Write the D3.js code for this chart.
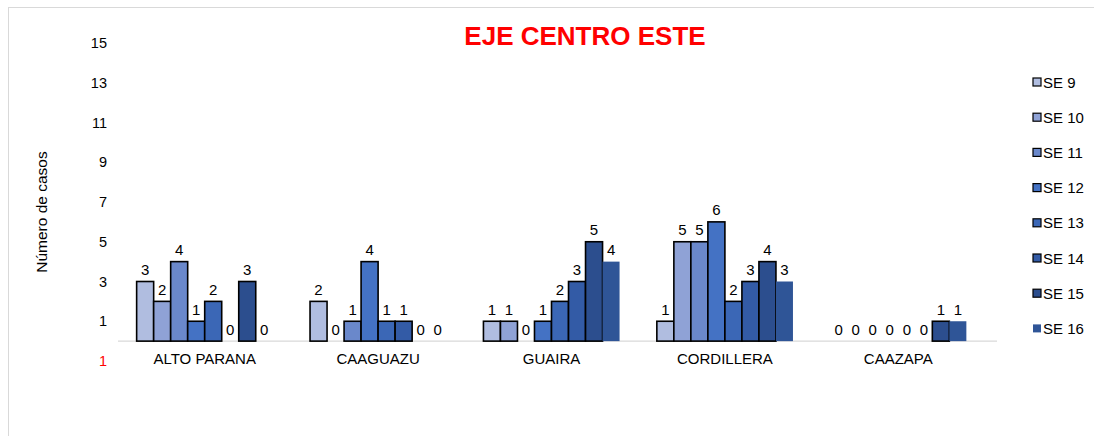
<!DOCTYPE html>
<html>
<head>
<meta charset="utf-8">
<script src="https://cdn.jsdelivr.net/npm/d3@7"></script>
<style>
  body { margin: 0; background: #fff; }
  text { font-family: Arial, "Liberation Sans", sans-serif; }
</style>
</head>
<body>
<div id="vis1"></div>
<script>
const categories = ["ALTO PARANA", "CAAGUAZU", "GUAIRA", "CORDILLERA", "CAAZAPA"]
const series = ["SE 9", "SE 10", "SE 11", "SE 12", "SE 13", "SE 14", "SE 15", "SE 16"]
const se9 = [3, 2, 1, 1, 0]
const se10 = [2, 0, 1, 5, 0]
const se11 = [4, 1, 0, 5, 0]
const se12 = [1, 4, 1, 6, 0]
const se13 = [2, 1, 2, 2, 0]
const se14 = [0, 1, 3, 3, 0]
const se15 = [3, 0, 5, 4, 1]
const se16 = [0, 0, 4, 3, 1]
const yTicks = [-1, 1, 3, 5, 7, 9, 11, 13, 15]

const values = [se9, se10, se11, se12, se13, se14, se15, se16]
const colors = ["#b0bde0", "#8fa2d6", "#6a88cb", "#4472c4", "#3b67b6", "#335ba6", "#2c4e8e", "#2f5597"]

const WIDTH = 1094
const HEIGHT = 436
const MARGINS = { left: 118, right: 109, top: 43, bottom: 75 }

const svg = d3.select("#vis1")
    .append("svg")
    .attr("width", WIDTH)
    .attr("height", HEIGHT)

// chart frame
svg.append("rect")
    .attr("x", 8.5)
    .attr("y", 7.5)
    .attr("width", WIDTH)
    .attr("height", HEIGHT)
    .attr("fill", "none")
    .attr("stroke", "#d9d9d9")

const X = d3.scaleBand()
    .domain(categories)
    .range([MARGINS.left, WIDTH - MARGINS.right])
    .paddingInner(0.215)
    .paddingOuter(0.1075)

const XS = d3.scaleBand()
    .domain(series)
    .range([0, X.bandwidth()])

const Y = d3.scaleLinear()
    .domain([-1, 15])
    .range([HEIGHT - MARGINS.bottom, MARGINS.top])

// y tick labels (negative shown red without sign)
svg.append("g")
    .selectAll("text")
    .data(yTicks)
    .enter()
    .append("text")
    .attr("x", 107)
    .attr("y", d => Y(d))
    .attr("text-anchor", "end")
    .attr("dominant-baseline", "central")
    .attr("font-size", "14.5px")
    .attr("fill", d => d < 0 ? "#ff0000" : "#000")
    .text(d => Math.abs(d))

// baseline
svg.append("line")
    .attr("x1", MARGINS.left)
    .attr("x2", WIDTH - MARGINS.right + 12)
    .attr("y1", Y(0))
    .attr("y2", Y(0))
    .attr("stroke", "#d9d9d9")
    .attr("stroke-width", 1.2)

// category labels
svg.append("g")
    .selectAll("text")
    .data(categories)
    .enter()
    .append("text")
    .attr("x", d => X(d) + X.bandwidth() / 2)
    .attr("y", Y(0) + 17)
    .attr("text-anchor", "middle")
    .attr("dominant-baseline", "central")
    .attr("font-size", "15px")
    .text(d => d)

const groups = svg.selectAll(".grp")
    .data(categories)
    .enter()
    .append("g")
    .attr("class", "grp")
    .attr("transform", d => "translate(" + X(d) + ",0)")

groups.selectAll("rect")
    .data((d, ci) => series.map((s, si) => ({ s: s, si: si, v: values[si][ci] })))
    .enter()
    .append("rect")
    .attr("x", d => XS(d.s))
    .attr("y", d => Y(d.v))
    .attr("width", XS.bandwidth())
    .attr("height", d => Y(0) - Y(d.v))
    .attr("fill", d => colors[d.si])
    .attr("stroke", d => d.si == 7 || d.v == 0 ? "none" : "#000")
    .attr("stroke-width", 1.6)

groups.selectAll("text")
    .data((d, ci) => series.map((s, si) => ({ s: s, si: si, v: values[si][ci] })))
    .enter()
    .append("text")
    .attr("x", d => XS(d.s) + XS.bandwidth() / 2)
    .attr("y", d => Y(d.v) - 12)
    .attr("text-anchor", "middle")
    .attr("dominant-baseline", "central")
    .attr("font-size", "15px")
    .text(d => d.v)

// title
svg.append("text")
    .attr("x", 585)
    .attr("y", 36)
    .attr("text-anchor", "middle")
    .attr("dominant-baseline", "central")
    .attr("font-size", "26px")
    .attr("font-weight", "bold")
    .attr("fill", "#ff0000")
    .text("EJE CENTRO ESTE")

// y axis title
svg.append("text")
    .attr("transform", "translate(41," + 212 + ") rotate(-90)")
    .attr("text-anchor", "middle")
    .attr("dominant-baseline", "central")
    .attr("font-size", "15.5px")
    .text("Número de casos")

// legend
const legend = svg.append("g")
    .selectAll("g")
    .data(series)
    .enter()
    .append("g")
    .attr("transform", (d, i) => "translate(1033," + (82 + i * 35.2) + ")")

legend.append("rect")
    .attr("x", 0)
    .attr("y", -4)
    .attr("width", 8)
    .attr("height", 8)
    .attr("fill", (d, i) => colors[i])
    .attr("stroke", (d, i) => i == 7 ? "none" : "#000")
    .attr("stroke-width", 1.2)

legend.append("text")
    .attr("x", 10)
    .attr("y", 0)
    .attr("dominant-baseline", "central")
    .attr("font-size", "15px")
    .text(d => d)
</script>
</body>
</html>
